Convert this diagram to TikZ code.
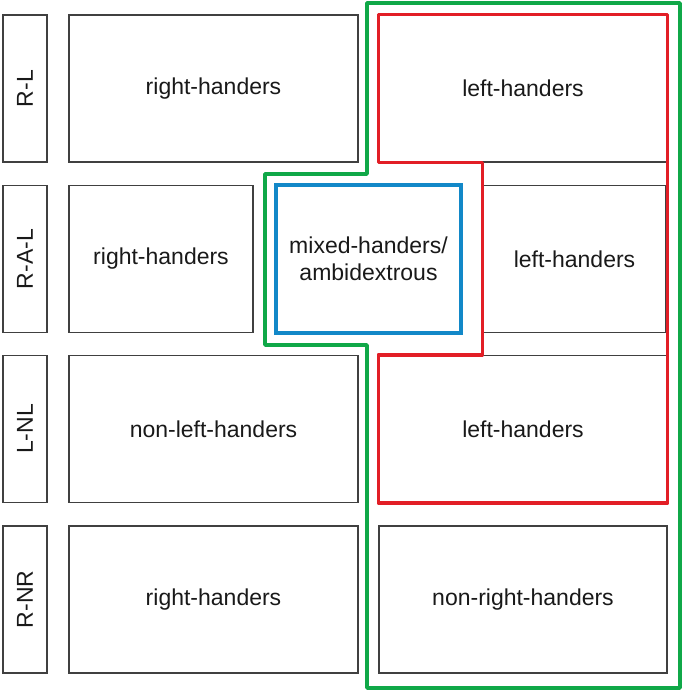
\documentclass[tikz,border=0pt]{standalone}
\usepackage{fontspec}
\setmainfont{Liberation Sans}
\usetikzlibrary{calc}

\definecolor{groupred}{RGB}{226,30,38}
\definecolor{groupgreen}{RGB}{16,168,72}
\definecolor{groupblue}{RGB}{18,136,200}

\tikzset{
  cell/.style={draw=black!75, line width=1.3pt, inner sep=0pt, align=center,
    minimum height=147pt, text=black!90, font=\fontsize{23}{27}\selectfont},
  rowlabel/.style={cell, minimum width=147pt, minimum height=44pt, rotate=90},
  group/.style={line width=3.5pt, line join=round}
}

\begin{document}
\begin{tikzpicture}[x=1pt,y=-1pt]
\useasboundingbox (0,0) rectangle (685,693);

% row labels
\node[rowlabel] (lab1) at (25,88.5) {R-L};
\node[rowlabel] (lab2) at (25,259) {R-A-L};
\node[rowlabel] (lab3) at (25,429) {L-NL};
\node[rowlabel] (lab4) at (25,599.5) {R-NR};

% left column
\node[cell, minimum width=289pt] (rh1) at (213.5,88.5) {right-handers};
\node[cell, minimum width=184pt] (rh2) at (161,259) {right-handers};
\node[cell, minimum width=289pt] (nlh3) at (213.5,429) {non-left-handers};
\node[cell, minimum width=289pt] (rh4) at (213.5,599.5) {right-handers};

% right column
\node[cell, minimum width=288pt] (lh1) at (523,88.5) {left-handers};
\node[cell, minimum width=183pt] (lh2) at (574.5,259) {left-handers};
\node[cell, minimum width=288pt] (lh3) at (523,429) {left-handers};
\node[cell, minimum width=288pt] (nrh4) at (523,599.5) {non-right-handers};

% groups
\draw[group, groupgreen] (367,3) -- (680,3) -- (680,688) -- (367,688) -- (367,345)
  -- (265,345) -- (265,174) -- (367,174) -- cycle;
\draw[group, groupred] (lh1.south west) -- (lh1.north west) -- (lh1.north east)
  -- (lh3.south east) -- (lh3.south west) -- (lh3.north west)
  -- (lh2.west |- lh3.north) -- (lh2.west |- lh1.south) -- cycle;
\node[cell, draw=groupblue, line width=3.5pt, minimum width=185pt, minimum height=148pt]
  (mixed) at (368.5,259) {mixed-handers/\\ambidextrous};

\end{tikzpicture}
\end{document}
